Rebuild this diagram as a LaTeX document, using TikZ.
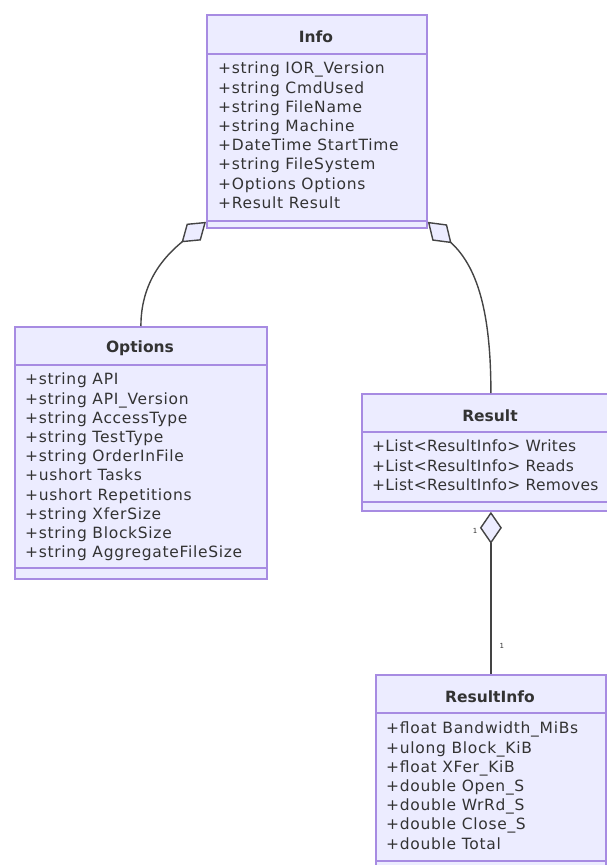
\documentclass[tikz,border=0pt]{standalone}
\usepackage{fontspec}
\setmainfont{DejaVu Sans}
\usetikzlibrary{arrows.meta}

\definecolor{umlfill}{HTML}{ECECFF}
\definecolor{umlborder}{HTML}{A78BE2}
\definecolor{umltext}{HTML}{333333}
\definecolor{umlline}{HTML}{444444}

\begin{document}
\begin{tikzpicture}[x=1pt, y=-1pt,
    classbox/.style={draw=umlborder, fill=umlfill, line width=1.8pt, anchor=north west, inner sep=0pt},
    classname/.style={font=\fontsize{15.5}{17}\selectfont\bfseries, text=umltext},
    members/.style={anchor=north west, align=left, inner sep=0pt, text=umltext, font=\fontsize{15.5}{19.2}\selectfont\addfontfeatures{LetterSpace=4.5}},
    divider/.style={draw=umlborder, line width=1.8pt},
    aggregation/.style={draw=umlline, line width=1.4pt, {Diamond[fill=umlfill, length=32pt, width=22pt, line width=1.4pt]}-},
    multiplicity/.style={font=\fontsize{7}{8}\selectfont, text=umltext, inner sep=1pt}]

    \useasboundingbox (0,0) rectangle (607,865);

    % Info
    \node[classbox, minimum width=220pt, minimum height=213pt] (info) at (206,14) {};
    \node[classname] (info-name) at (316,37) {Info};
    \draw[divider] (info.west |- 0,54) -- (info.east |- 0,54);
    \draw[divider] (info.west |- 0,221) -- (info.east |- 0,221);
    \node[members] (info-attr) at (218,62) {+string IOR\_Version\\+string CmdUsed\\+string FileName\\+string Machine\\+DateTime StartTime\\+string FileSystem\\+Options Options\\+Result Result};

    % Options
    \node[classbox, minimum width=252pt, minimum height=252pt] (options) at (14,326) {};
    \node[classname] (options-name) at (140,348) {Options};
    \draw[divider] (options.west |- 0,365) -- (options.east |- 0,365);
    \draw[divider] (options.west |- 0,568) -- (options.east |- 0,568);
    \node[members] (options-attr) at (25,373) {+string API\\+string API\_Version\\+string AccessType\\+string TestType\\+string OrderInFile\\+ushort Tasks\\+ushort Repetitions\\+string XferSize\\+string BlockSize\\+string AggregateFileSize};

    % Result (runs past the right edge)
    \node[classbox, minimum width=258pt, minimum height=117pt] (result) at (361,393) {};
    \node[classname] (result-name) at (490,416) {Result};
    \draw[divider] (result.west |- 0,432) -- (result.east |- 0,432);
    \draw[divider] (result.west |- 0,502) -- (result.east |- 0,502);
    \node[members, font=\fontsize{15.5}{19.2}\selectfont\addfontfeatures{LetterSpace=2}] (result-attr) at (372,440) {+List<ResultInfo> Writes\\+List<ResultInfo> Reads\\+List<ResultInfo> Removes};

    % ResultInfo
    \node[classbox, minimum width=230pt, minimum height=197pt] (resultinfo) at (375,674) {};
    \node[classname] (resultinfo-name) at (490,697) {ResultInfo};
    \draw[divider] (resultinfo.west |- 0,713) -- (resultinfo.east |- 0,713);
    \draw[divider] (resultinfo.west |- 0,861) -- (resultinfo.east |- 0,861);
    \node[members] (resultinfo-attr) at (386,722) {+float Bandwidth\_MiBs\\+ulong Block\_KiB\\+float XFer\_KiB\\+double Open\_S\\+double WrRd\_S\\+double Close\_S\\+double Total};

    % aggregations
    \draw[aggregation] ([yshift=7pt]info.south west) to[out=220, in=90] (options.north);
    \draw[aggregation] ([yshift=7pt]info.south east) to[out=318, in=90] (result.north);
    \draw[aggregation] (result.south) -- node[multiplicity, pos=0.12, left=12pt] {1} node[multiplicity, pos=0.83, right=7pt] {1} (resultinfo.north);
\end{tikzpicture}
\end{document}
